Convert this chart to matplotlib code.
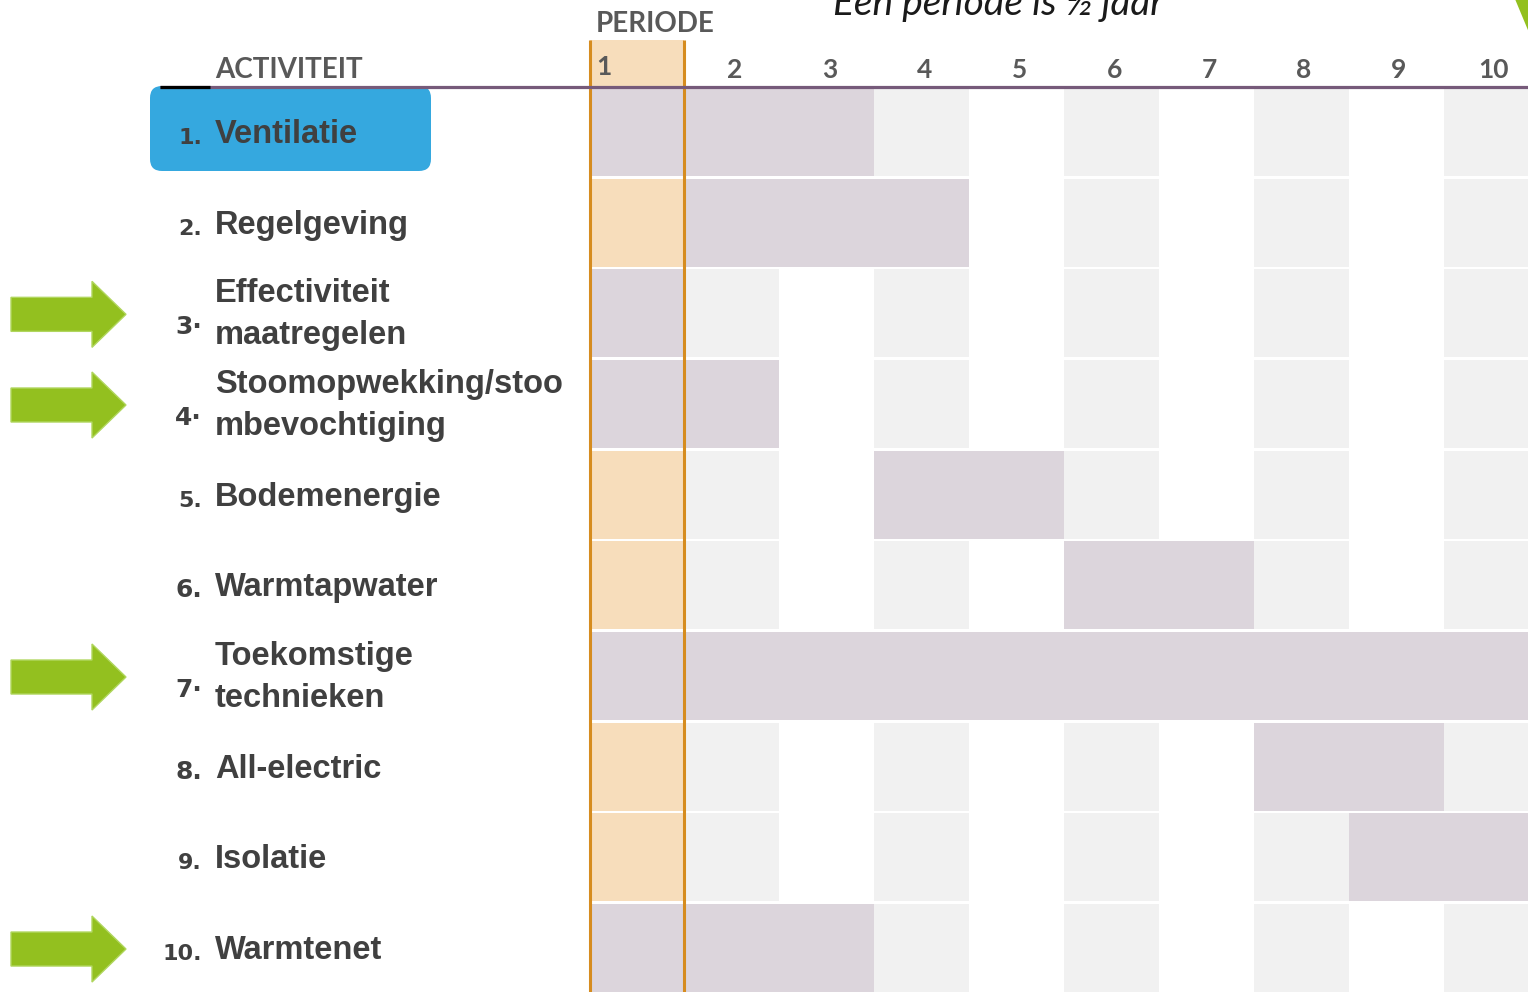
import matplotlib
matplotlib.use("Agg")
import matplotlib.pyplot as plt
from matplotlib.patches import Polygon, FancyBboxPatch, Rectangle
from matplotlib.transforms import blended_transform_factory

# ---------------- data ----------------
periods = [1, 2, 3, 4, 5, 6, 7, 8, 9, 10]
period_labels = ["1", "2", "3", "4", "5", "6", "7", "8", "9", "10"]
numbers = ["1.", "2.", "3·", "4·", "5.", "6.", "7·", "8.", "9.", "10."]
oldstyle = [True, True, False, False, True, False, False, False, True, True]
activities = ["Ventilatie", "Regelgeving", "Effectiviteit\nmaatregelen",
              "Stoomopwekking/stoo\nmbevochtiging", "Bodemenergie", "Warmtapwater",
              "Toekomstige\ntechnieken", "All-electric", "Isolatie", "Warmtenet"]
start_period = [1, 2, 1, 1, 4, 6, 1, 8, 9, 1]
end_period = [3, 4, 1, 2, 5, 7, 10, 9, 10, 3]
arrow_rows = [3, 4, 7, 10]
highlight_row = 1
title = "Een periode is ½ jaar"
header_period = "PERIODE"
header_activity = "ACTIVITEIT"

# ---------------- style ----------------
W, H = 1528, 992
LAV = "#dcd5dc"
GREY = "#f1f1f1"
ORANGE_FILL = "#f7ddbb"
ORANGE_LINE = "#d68c1f"
PURPLE = "#765a7a"
BLUE = "#35a8df"
GREEN = "#93c01f"
GREEN_EDGE = "#b0d65e"
TXT = "#404040"
HDR = "#595959"

col_w = 94.9
grid_left = 589.5
row_h = 90.67
row0_center = 132.0
cell_h = 88.0 / row_h

fig = plt.figure(figsize=(W / 100, H / 100), dpi=100)
fig.patch.set_facecolor("white")

top_px = row0_center - 0.5 * row_h
ax = fig.add_axes([grid_left / W, 0, (W - grid_left) / W, (H - top_px) / H], zorder=1)
ax.set_xlim(0.5, 0.5 + (W - grid_left) / col_w)
ax.set_ylim(0.5 + (H - top_px) / row_h, 0.5)
ax.axis("off")

axp = fig.add_axes([0, 0, 1, 1], zorder=2)
axp.set_xlim(0, W)
axp.set_ylim(H, 0)
axp.axis("off")
axp.patch.set_alpha(0)

t_gx_py = blended_transform_factory(ax.transData, axp.transData)  # x periods, y pixels
t_px_gy = blended_transform_factory(axp.transData, ax.transData)  # x pixels, y rows

rows = list(range(1, len(activities) + 1))

# background cells
for r in rows:
    for p in periods:
        if p == 1:
            ax.barh(r, 1, left=p - 0.5, height=cell_h, color=ORANGE_FILL, linewidth=0)
        elif p % 2 == 0:
            ax.barh(r, 1, left=p - 0.5, height=cell_h, color=GREY, linewidth=0)

# activity bars
for r, s, e in zip(rows, start_period, end_period):
    ax.barh(r, e - s + 1, left=s - 0.5, height=cell_h, color=LAV, linewidth=0)

# header orange cell and orange lines
axp.add_patch(Rectangle((0.5, 40), 1, 48, transform=t_gx_py, color=ORANGE_FILL, lw=0, zorder=1))
for xb in (0.5, 1.5):
    axp.plot([xb, xb], [40, H], transform=t_gx_py, color=ORANGE_LINE, lw=2.2,
             solid_capstyle="butt", zorder=3)

# highlight box
axp.add_patch(FancyBboxPatch((150, 86), 281, 85, boxstyle="round,pad=0,rounding_size=12",
                             facecolor=BLUE, edgecolor="none", zorder=1))

# header line
axp.plot([160, W], [87.2, 87.2], color=PURPLE, lw=2.3, solid_capstyle="butt", zorder=4)
axp.plot([160, 210], [87.2, 87.2], color="black", lw=2.3, solid_capstyle="butt", zorder=5)

# headers
axp.text(596, 32, header_period, fontsize=20, fontweight="bold", color=HDR,
         family=["Lato", "DejaVu Sans"], ha="left", va="baseline", zorder=6)
axp.text(215, 78, header_activity, fontsize=20, fontweight="bold", color=HDR,
         family=["Lato", "DejaVu Sans"], ha="left", va="baseline", zorder=6)
for p, lab in zip(periods, period_labels):
    if p == 1:
        axp.text(p - 0.5 + 0.075, 75, lab, transform=t_gx_py, fontsize=19, fontweight="bold",
                 color=HDR, family=["Lato", "DejaVu Sans"], ha="left", va="baseline", zorder=6)
    else:
        axp.text(p + 0.03, 78, lab, transform=t_gx_py, fontsize=19, fontweight="bold",
                 color=HDR, family=["Lato", "DejaVu Sans"], ha="center", va="baseline", zorder=6)

# title (cut at top)
axp.text(998, 15, title, fontsize=28, style="italic", color="#1a1a1a",
         family=["Lato", "DejaVu Sans"], ha="center", va="baseline", zorder=6)

# green corner shape
axp.add_patch(Polygon([(1514.5, -1), (1530, -1), (1530, 35)], closed=True,
                      facecolor=GREEN, edgecolor="none", zorder=6))

# activity labels
LFONT = ["Liberation Sans", "DejaVu Sans"]
for r, num, lab, old in zip(rows, numbers, activities, oldstyle):
    lines = lab.split("\n")
    if len(lines) == 1:
        axp.text(215, r + 11 / row_h, lines[0], transform=t_px_gy, fontsize=23.5,
                 fontweight="bold", color=TXT, family=LFONT,
                 ha="left", va="baseline", zorder=6)
        ny = r + 12 / row_h
    else:
        axp.text(215, r - 11.5 / row_h, lines[0], transform=t_px_gy, fontsize=23.5,
                 fontweight="bold", color=TXT, family=LFONT,
                 ha="left", va="baseline", zorder=6)
        axp.text(215, r + 31 / row_h, lines[1], transform=t_px_gy, fontsize=23.5,
                 fontweight="bold", color=TXT, family=LFONT,
                 ha="left", va="baseline", zorder=6)
        ny = r + 21 / row_h
    axp.text(202, ny, num, transform=t_px_gy, fontsize=16 if old else 18,
             fontweight="bold", color=TXT, family=["DejaVu Sans"],
             ha="right", va="baseline", zorder=6)

# green arrows
for r in arrow_rows:
    shape = [(11, -17), (92, -17), (92, -33), (126, 0), (92, 33), (92, 17), (11, 17)]
    pts = [(x, r + (dy + 1.0) / row_h) for x, dy in shape]
    axp.add_patch(Polygon(pts, closed=True, transform=t_px_gy, facecolor=GREEN,
                          edgecolor=GREEN_EDGE, lw=1.0, zorder=6))

fig.savefig("out.png", dpi=100, facecolor="white")
